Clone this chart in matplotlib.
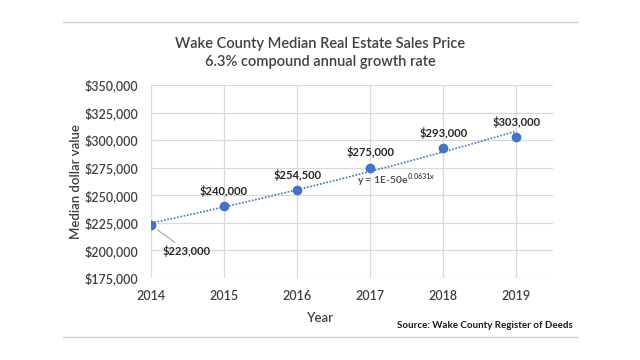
import numpy as np
import matplotlib
matplotlib.use("Agg")
import matplotlib.pyplot as plt
from matplotlib.lines import Line2D

years = [2014, 2015, 2016, 2017, 2018, 2019]
prices = [223000, 240000, 254500, 275000, 293000, 303000]
labels = ["$223,000", "$240,000", "$254,500", "$275,000", "$293,000", "$303,000"]
yticks = [175000, 200000, 225000, 250000, 275000, 300000, 325000, 350000]
ytick_labels = ["$175,000", "$200,000", "$225,000", "$250,000", "$275,000", "$300,000", "$325,000", "$350,000"]

plt.rcParams['font.family'] = ['Lato', 'DejaVu Sans']
plt.rcParams['mathtext.fontset'] = 'custom'
plt.rcParams['mathtext.rm'] = 'Lato'
txt = '#404040'
blue = '#4472C4'

fig = plt.figure(figsize=(6.4, 3.6), dpi=100)
ax = fig.add_axes([151/640, 1-278/360, (553-151)/640, (278-85)/360])

# trendline (exponential fit)
b, la = np.polyfit(years, np.log(prices), 1)
xs = np.linspace(years[0], years[-1], 50)
ax.plot(xs, np.exp(la + b*xs), linestyle=(0, (1, 1)), color=blue, lw=1.2, zorder=3)
ax.plot(years, prices, 'o', color=blue, ms=6, zorder=4)

ax.set_xlim(2014, 2019.5)
ax.set_ylim(175000, 350000)
ax.set_xticks(years)
ax.set_xticklabels([str(y) for y in years], fontsize=9, color=txt, fontweight='semibold')
ax.set_yticks(yticks)
ax.set_yticklabels(ytick_labels, fontsize=9, color=txt, fontweight='semibold')
ax.tick_params(length=0, pad=9)
ax.grid(True, color='#d9d9d9', lw=0.9)
ax.set_axisbelow(True)
for s in ax.spines.values():
    s.set_visible(False)

# data labels
for i, (x, y, l) in enumerate(zip(years, prices, labels)):
    if i == 0:
        ax.annotate(l, (x, y), xytext=(26, -19), textcoords='offset points',
                    fontsize=8, color='#262626', fontweight='bold', ha='center', va='center',
                    arrowprops=dict(arrowstyle='-', color='#a6a6a6', lw=0.8, shrinkA=0, shrinkB=6))
    else:
        ax.annotate(l, (x, y), xytext=(0, 11), textcoords='offset points',
                    fontsize=8, color='#262626', fontweight='bold', ha='center', va='center')

ax.text(2017.35, 263500, r'y = 1E-50e$^{\mathregular{0.0631x}}$', fontsize=7.5, color=txt,
        ha='center', va='center', fontweight='semibold')

ax.set_ylabel('Median dollar value', fontsize=9.5, color=txt, fontweight='semibold', labelpad=2)
fig.text(320/640, 1-318/360, 'Year', fontsize=9.5, color=txt, fontweight='semibold', ha='center', va='center')
fig.text(320/640, 1-44/360, 'Wake County Median Real Estate Sales Price', fontsize=10.5,
         color=txt, fontweight='semibold', ha='center', va='center')
fig.text(320/640, 1-62/360, '6.3% compound annual growth rate', fontsize=10.5,
         color=txt, fontweight='semibold', ha='center', va='center')
fig.text(573/640, 1-325/360, 'Source: Wake County Register of Deeds', fontsize=7,
         color='#1a1a1a', fontweight='bold', ha='right', va='center')

fig.add_artist(Line2D([63/640, 578/640], [1-22/360, 1-22/360], color='#d0d0d0', lw=1))
fig.add_artist(Line2D([63/640, 578/640], [1-337/360, 1-337/360], color='#d0d0d0', lw=1))

fig.savefig('out.png', dpi=100)
